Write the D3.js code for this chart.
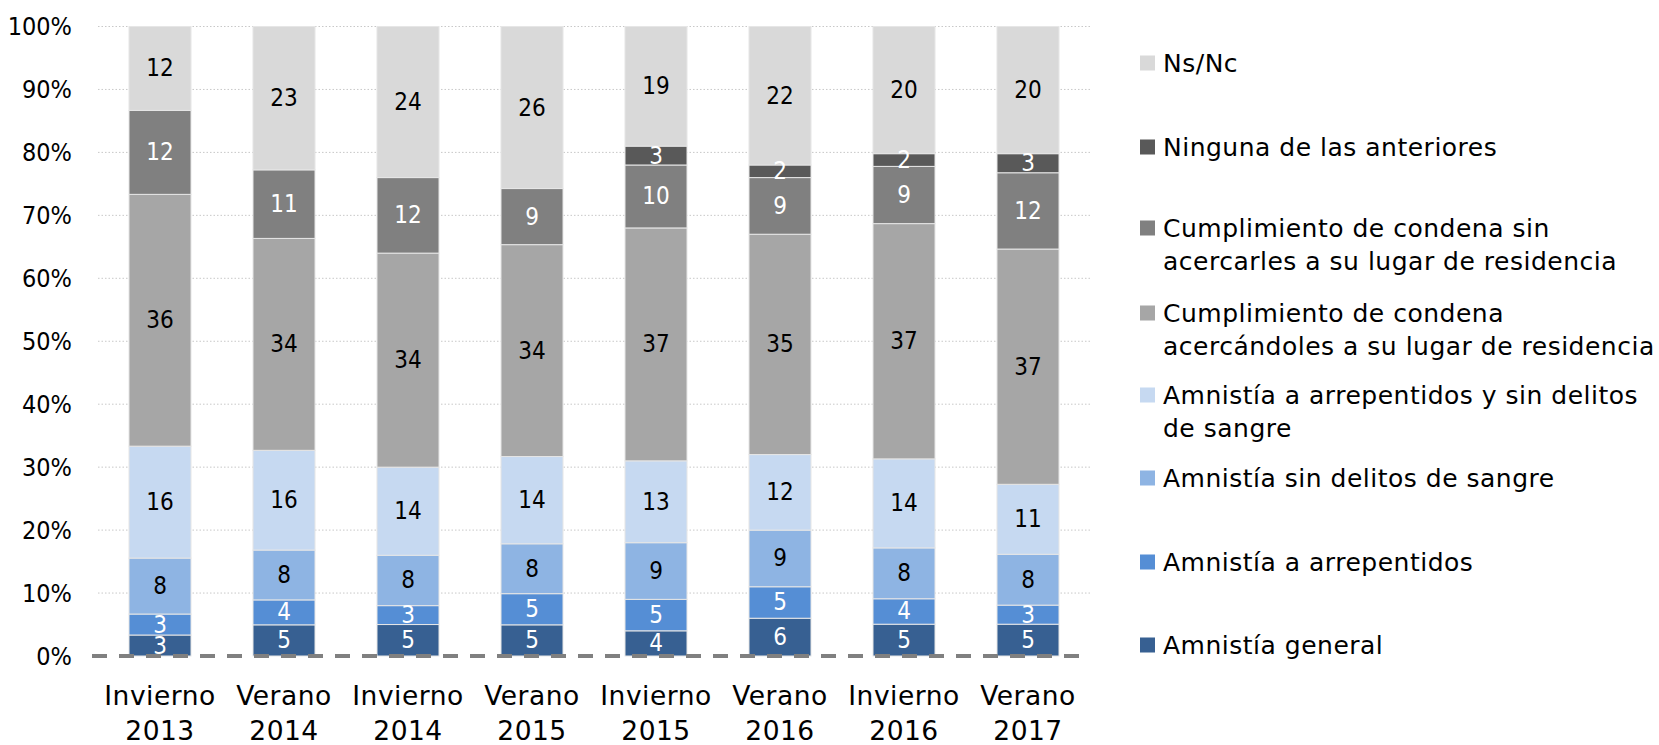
<!DOCTYPE html>
<html lang="es">
<head>
<meta charset="utf-8">
<script src="https://cdn.jsdelivr.net/npm/d3@7"></script>
<style>
  html, body { margin: 0; padding: 0; background: #fff; }
  svg { display: block; font-family: "DejaVu Sans", sans-serif; }
  .narrow { font-family: "DejaVu Sans Condensed", "DejaVu Sans", sans-serif; font-stretch: condensed; }
  .wide { font-family: "DejaVu Sans", sans-serif; letter-spacing: 0.5px; }
</style>
</head>
<body>
<svg id="chart" width="1659" height="745"></svg>
<script>
// Survey waves (x axis)
const categories = [
  ["Invierno", "2013"], ["Verano", "2014"], ["Invierno", "2014"], ["Verano", "2015"],
  ["Invierno", "2015"], ["Verano", "2016"], ["Invierno", "2016"], ["Verano", "2017"]
];

// Series, bottom of the stack first
const seriesNames = [
  "Amnistía general",
  "Amnistía a arrepentidos",
  "Amnistía sin delitos de sangre",
  "Amnistía a arrepentidos y sin delitos de sangre",
  "Cumplimiento de condena acercándoles a su lugar de residencia",
  "Cumplimiento de condena sin acercarles a su lugar de residencia",
  "Ninguna de las anteriores",
  "Ns/Nc"
];

const amnistiaGeneral      = [3, 5, 5, 5, 4, 6, 5, 5];
const amnistiaArrepentidos = [3, 4, 3, 5, 5, 5, 4, 3];
const amnistiaSinDelitos   = [8, 8, 8, 8, 9, 9, 8, 8];
const amnistiaArrepSin     = [16, 16, 14, 14, 13, 12, 14, 11];
const condenaAcercandoles  = [36, 34, 34, 34, 37, 35, 37, 37];
const condenaSinAcercarles = [12, 11, 12, 9, 10, 9, 9, 12];
const ninguna              = [0, 0, 0, 0, 3, 2, 2, 3];
const nsnc                 = [12, 23, 24, 26, 19, 22, 20, 20];

const seriesValues = [amnistiaGeneral, amnistiaArrepentidos, amnistiaSinDelitos, amnistiaArrepSin,
                      condenaAcercandoles, condenaSinAcercarles, ninguna, nsnc];

// Legend text, split in lines as displayed
const legendLines = {
  "Ns/Nc": ["Ns/Nc"],
  "Ninguna de las anteriores": ["Ninguna de las anteriores"],
  "Cumplimiento de condena sin acercarles a su lugar de residencia": ["Cumplimiento de condena sin", "acercarles a su lugar de residencia"],
  "Cumplimiento de condena acercándoles a su lugar de residencia": ["Cumplimiento de condena", "acercándoles a su lugar de residencia"],
  "Amnistía a arrepentidos y sin delitos de sangre": ["Amnistía a arrepentidos y sin delitos", "de sangre"],
  "Amnistía sin delitos de sangre": ["Amnistía sin delitos de sangre"],
  "Amnistía a arrepentidos": ["Amnistía a arrepentidos"],
  "Amnistía general": ["Amnistía general"]
};

const yTicks = [0, 0.1, 0.2, 0.3, 0.4, 0.5, 0.6, 0.7, 0.8, 0.9, 1];

// Styling
const colors = ["#376092", "#558ed5", "#8eb4e3", "#c6d9f1", "#a6a6a6", "#808080", "#595959", "#d9d9d9"];
const labelColors = ["#fff", "#fff", "#000", "#000", "#000", "#fff", "#fff", "#000"];

const svg = d3.select("#chart");
const margin = { left: 98, top: 26.5, bottom: 656 };
const plotRight = 1090;

const rows = categories.map((c, i) => {
  const r = { key: c.join(" ") };
  seriesNames.forEach((s, j) => { r[s] = seriesValues[j][i]; });
  return r;
});

const stack = d3.stack().keys(seriesNames).offset(d3.stackOffsetExpand).order(d3.stackOrderNone);
const layers = stack(rows);

const x = d3.scaleBand().domain(rows.map(d => d.key)).range([margin.left, plotRight]).paddingInner(0.5).paddingOuter(0.25);
const y = d3.scaleLinear().domain([0, 1]).range([margin.bottom, margin.top]);

// Dotted gridlines
svg.append("g").selectAll("line").data(yTicks.filter(t => t > 0)).join("line")
  .attr("x1", margin.left).attr("x2", plotRight)
  .attr("y1", d => y(d)).attr("y2", d => y(d))
  .attr("stroke", "#c8c8c8").attr("stroke-width", 1).attr("stroke-dasharray", "1.5,2");

// Y axis labels
const yAxis = d3.axisLeft(y).tickValues(yTicks).tickFormat(d3.format(".0%")).tickSize(0).tickPadding(0);
const yg = svg.append("g").attr("transform", "translate(72,0)").call(yAxis);
yg.select(".domain").remove();
yg.selectAll("text").attr("class", "narrow").attr("font-size", 25).attr("fill", "#000").attr("font-family", null);

// Bars
const layerG = svg.append("g").selectAll("g").data(layers).join("g")
  .attr("fill", (d, i) => colors[i]);
layerG.selectAll("rect").data(d => d.map(p => ({ p, key: d.key }))).join("rect")
  .attr("x", d => x(d.p.data.key))
  .attr("width", x.bandwidth())
  .attr("y", d => y(d.p[1]))
  .attr("height", d => Math.max(0, y(d.p[0]) - y(d.p[1])))
  .attr("stroke", "#e6e6e6").attr("stroke-width", 1);

// Value labels
svg.append("g").attr("class", "narrow").selectAll("g").data(layers).join("g")
  .attr("fill", (d, i) => labelColors[i])
  .selectAll("text").data(d => d.map(p => ({ p, key: d.key })).filter(d => d.p.data[d.key] > 0)).join("text")
  .attr("x", d => x(d.p.data.key) + x.bandwidth() / 2)
  .attr("y", d => (y(d.p[0]) + y(d.p[1])) / 2)
  .attr("text-anchor", "middle").attr("dominant-baseline", "central")
  .attr("font-size", 24)
  .text(d => d.p.data[d.key]);

// Dashed baseline at 0%
svg.append("line")
  .attr("x1", 92).attr("x2", plotRight).attr("y1", y(0)).attr("y2", y(0))
  .attr("stroke", "#808080").attr("stroke-width", 4).attr("stroke-dasharray", "15,12");

// Category labels
const xg = svg.append("g").attr("class", "wide");
rows.forEach((r, i) => {
  const t = xg.append("text").attr("text-anchor", "middle").attr("font-size", 26.5).attr("fill", "#000");
  categories[i].forEach((line, k) => {
    t.append("tspan").attr("x", x(r.key) + x.bandwidth() / 2).attr("y", 705 + k * 35).text(line);
  });
});

// Legend, top entry first
const legendY = [63, 147, 228, 313, 395, 478, 562, 645];
const legendOrder = seriesNames.slice().reverse();
const lg = svg.append("g").attr("class", "wide");
legendOrder.forEach((name, i) => {
  const idx = seriesNames.indexOf(name);
  lg.append("rect").attr("x", 1140).attr("y", legendY[i] - 7.5).attr("width", 15).attr("height", 15).attr("fill", colors[idx]);
  const t = lg.append("text").attr("font-size", 25).attr("fill", "#000");
  legendLines[name].forEach((line, k) => {
    t.append("tspan").attr("x", 1163).attr("y", legendY[i] + k * 33).attr("dominant-baseline", "central").text(line);
  });
});
</script>
</body>
</html>
